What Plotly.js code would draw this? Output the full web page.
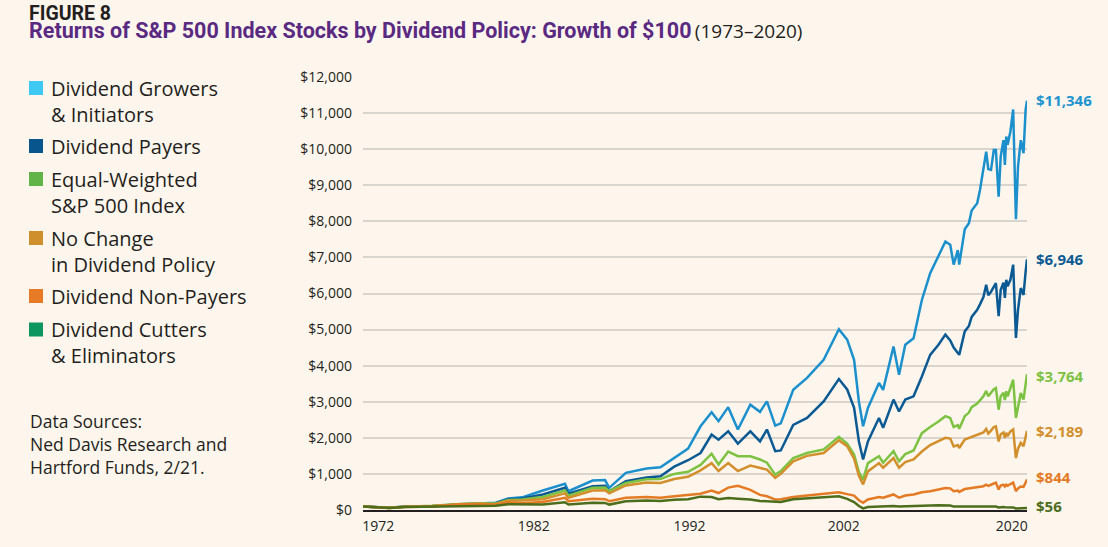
<!DOCTYPE html>
<html>
<head>
<meta charset="utf-8">
<script src="https://cdn.plot.ly/plotly-3.0.1.min.js"></script>
<style>
html,body{margin:0;padding:0;background:#fef6ec;}
#chart{width:1108px;height:547px;}
</style>
</head>
<body>
<div id="chart"></div>
<script>
// ---- Data ----
const years = [1973.0,1974.0,1974.9,1976.0,1978.0,1980.0,1981.5,1982.6,1983.5,1984.5,1986.0,1987.6,1987.85,1989.6,1990.5,1990.8,1992.0,1993.5,1994.5,1995.5,1996.5,1997.4,1998.2,1998.7,1999.4,2000.1,2001.0,2001.7,2002.2,2002.8,2003.2,2004.1,2005.1,2006.3,2007.4,2008.0,2008.5,2008.85,2009.15,2009.5,2010.3,2010.6,2011.35,2011.75,2012.2,2012.8,2013.4,2014.0,2014.6,2015.1,2015.45,2015.7,2016.0,2016.1,2016.5,2016.8,2017.0,2017.4,2017.6,2017.85,2018.05,2018.2,2018.4,2018.6,2018.75,2018.95,2019.1,2019.3,2019.4,2019.5,2019.6,2019.8,2020.0,2020.2,2020.35,2020.55,2020.75,2020.9,2021.0];

const growers = [100,85,65,95,110,160,190,200,320,350,540,725,520,815,830,615,1030,1150,1185,1450,1700,2320,2710,2460,2850,2230,2920,2720,3010,2340,2400,3330,3660,4160,5010,4720,4160,3000,2320,2830,3520,3330,4530,3750,4580,4760,5820,6560,7020,7440,7350,6800,7200,6800,7780,7950,8300,8500,8870,9500,9930,9450,9425,9980,9980,8680,9800,10250,9560,10350,10120,10490,11100,8060,9520,10250,9890,11090,11346];

const payers = [100,85,65,92,105,150,180,190,300,320,430,615,455,660,670,520,800,900,935,1200,1380,1580,2090,1950,2180,1840,2180,1900,2230,1630,1650,2360,2550,3010,3630,3340,2830,1900,1400,1900,2550,2280,3060,2730,3060,3150,3700,4300,4580,4860,4700,4500,4350,4300,4950,5100,5350,5550,5700,5900,6240,5950,6050,6200,6290,5370,6100,6300,5880,6380,6200,6380,6800,4770,5550,6150,5960,6600,6946];

const equalWeighted = [100,80,58,92,115,165,190,180,280,290,360,540,400,615,620,520,750,850,860,1000,1060,1250,1560,1260,1620,1490,1490,1400,1310,980,1080,1440,1580,1680,2030,1840,1540,1050,840,1300,1490,1310,1630,1350,1550,1650,2130,2300,2450,2600,2550,2300,2350,2250,2600,2700,2850,2950,3050,3150,3300,3150,3250,3350,3380,2780,3150,3250,3050,3290,3150,3400,3610,2550,2900,3240,3060,3500,3764];

const noChange = [100,82,62,90,108,150,170,165,255,260,300,460,340,540,545,460,680,760,750,860,920,1100,1300,1080,1300,1080,1230,1170,1120,890,1000,1350,1500,1580,1930,1770,1420,950,710,1070,1300,1170,1440,1170,1330,1400,1620,1800,1900,2000,1980,1760,1800,1720,1950,1990,2020,2080,2100,2150,2250,2120,2200,2300,2320,1900,2100,2150,2000,2140,2050,2180,2230,1440,1700,1860,1770,2050,2189];

const nonPayers = [100,75,52,80,100,160,170,150,210,190,220,340,245,310,300,245,340,360,340,380,420,450,540,470,620,670,560,420,380,290,300,360,400,440,490,440,400,270,200,290,360,340,430,340,400,430,490,520,560,610,600,520,540,500,580,600,610,630,640,660,700,670,700,740,760,570,680,700,650,700,670,720,760,520,600,650,640,760,844];

const cutters = [100,80,58,85,95,120,130,120,160,150,155,215,150,200,195,150,245,260,250,285,300,370,360,300,330,310,290,250,240,215,220,300,330,350,380,310,220,110,45,80,100,95,110,95,105,105,115,125,130,130,125,95,95,85,100,102,105,105,105,105,100,95,95,95,95,70,80,80,75,75,70,72,72,45,50,52,50,54,56];

const seriesNames = ["Dividend Growers<br>& Initiators","Dividend Payers","Equal-Weighted<br>S&P 500 Index","No Change<br>in Dividend Policy","Dividend Non-Payers","Dividend Cutters<br>& Eliminators"];

const yTickVals = [0,1000,2000,3000,4000,5000,6000,7000,8000,9000,10000,11000,12000];
const xTickLabels = ["1972","1982","1992","2002","2020"];
const xTickPos = [1974.1,1985.35,1996.6,2007.75,2019.9];

// ---- Styles ----
const lineColors = ["#1b90cc","#0b5a93","#7dc242","#d28f2c","#e47b24","#4c6e1c"];
const legendColors = ["#3ec8f2","#07558c","#62b448","#cf8f2c","#e67a25","#0d9660"];
const labelColors = ["#1e94d0","#0b5a93","#7dc242","#d28f2c","#e47b24","#4c6e1c"];
const allSeries = [growers,payers,equalWeighted,noChange,nonPayers,cutters];

const L = 363, R = 81, T = 77, B = 37, W = 1108, H = 547;
const PW = W - L - R, PH = H - T - B;
const px = x => (x - L) / PW;
const py = y => (H - B - y) / PH;

const txt = "#231f20";
const font = "Open Sans, Noto Sans, sans-serif";
const condensed = "Roboto, Liberation Sans, sans-serif";

const traces = allSeries.map((s, i) => ({
  x: years, y: s, type: "scatter", mode: "lines",
  line: {color: lineColors[i], width: 2.5},
  name: seriesNames[i], showlegend: false, hoverinfo: "skip"
}));

const annotations = [];
const shapes = [];

// Title block (one text, two lines)
annotations.push({xref:"paper",yref:"paper",x:px(27),y:py(0),xanchor:"left",yanchor:"top",align:"left",showarrow:false,
  text:"<span style='color:#231f20;font-size:19.5px'><b>FIGURE 8</b></span><br>" +
       "<span style='font-size:21.5px'><b>Returns of S&P 500 Index Stocks by Dividend Policy: Growth of $100</b></span> " +
       "<span style='font-family:Open Sans;font-size:19px;color:#231f20'>(1973–2020)</span>",
  font:{family:condensed,size:13.6,color:"#5a2a82"}});

// Legend (manual)
const legendRows = [88,146,179,238,296,329.5];
const lineGap = 26;
seriesNames.forEach((n, i) => {
  const c = legendRows[i];
  shapes.push({type:"rect",xref:"paper",yref:"paper",x0:px(29),x1:px(43),y0:py(c+7),y1:py(c-7),
    fillcolor:legendColors[i],line:{width:0}});
  const nl = n.split("<br>").length;
  annotations.push({xref:"paper",yref:"paper",x:px(48.5),y:py(c+(nl-1)*lineGap/2),xanchor:"left",yanchor:"middle",
    align:"left",showarrow:false,text:n,font:{family:font,size:20,color:txt}});
});

// Data source note
annotations.push({xref:"paper",yref:"paper",x:px(28.5),y:py(443.5),xanchor:"left",yanchor:"middle",align:"left",showarrow:false,
  text:"Data Sources:<br>Ned Davis Research and<br>Hartford Funds, 2/21.",font:{family:font,size:17.5,color:txt}});

// End labels
const endShift = [1,0,-2,0,3,2];
allSeries.forEach((s, i) => {
  const v = s[s.length-1];
  annotations.push({x:years[years.length-1],y:v,xref:"x",yref:"y",xanchor:"left",yanchor:"middle",xshift:7,yshift:endShift[i],
    showarrow:false,text:"<b>$"+v.toLocaleString("en-US")+"</b>",font:{family:font,size:15,color:labelColors[i]}});
});

const layout = {
  width: W, height: H,
  margin: {l:L, r:R, t:T, b:B, pad:0},
  paper_bgcolor: "#fef6ec", plot_bgcolor: "#fef6ec",
  font: {family: font, color: txt, size: 14},
  xaxis: {range:[1973,2021], tickvals:xTickPos, ticktext:xTickLabels, showgrid:false, zeroline:false,
    showline:true, linecolor:"#231f20", linewidth:2, ticks:"", tickfont:{size:14,color:txt}, ticklabelstandoff:2},
  yaxis: {range:[0,12000], tickvals:yTickVals, ticktext:yTickVals.map(v => "$" + v.toLocaleString("en-US")), showgrid:true,
    gridcolor:"#d8d5cf", gridwidth:2, zeroline:false, showline:false, ticks:"", tickfont:{size:14,color:txt}, ticklabelstandoff:10},
  annotations, shapes, showlegend:false
};

Plotly.newPlot("chart", traces, layout, {staticPlot:true, displayModeBar:false});
</script>
</body>
</html>
